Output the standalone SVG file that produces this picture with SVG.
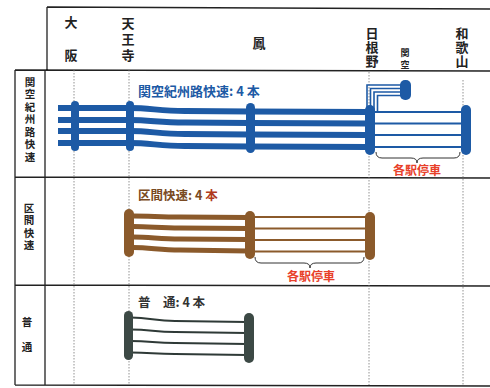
<svg xmlns="http://www.w3.org/2000/svg" width="490" height="388" viewBox="0 0 490 388">
<style>
text{font-family:"Noto Sans CJK JP","Noto Sans",sans-serif;font-weight:bold;}
.v{writing-mode:vertical-rl;text-orientation:upright;}
.grid{stroke:#222;stroke-width:1.3;fill:none;}
.dot{stroke:#777;stroke-width:0.8;stroke-dasharray:1.5 1.5;fill:none;}
.hd{font-size:13px;fill:#222;}
.rl{font-size:10.5px;fill:#222;}
.blueT{stroke:#1d5aa5;stroke-width:6;fill:none;}
.blueS{stroke:#1d5aa5;stroke-width:2;fill:none;}
.blueB{fill:#1d5aa5;}
.brT{stroke:#8b5a2b;stroke-width:5;fill:none;}
.brS{stroke:#8b5a2b;stroke-width:2;fill:none;}
.brB{fill:#8b5a2b;}
.dkS{stroke:#2f3a37;stroke-width:2.2;fill:none;}
.dkB{fill:#3c4945;}
.brace{stroke:#333;stroke-width:1;fill:none;}
.red{font-size:12px;fill:#e8402a;text-anchor:middle;}
</style>
<rect width="490" height="388" fill="#fff"/>
<g id="grid">
<path class="grid" d="M47,7 L490,9 M47,7 L47,70 M15,70 L490,71 M15,70 L15,385 M45,70 L45,385 M15,177 L490,178 M15,285 L490,286 M15,385 L490,386"/>
<path class="dot" d="M74,70 V385 M129,70 V385 M369,72 V385 M463,80 V385"/>
</g>
<g id="header">
<text class="hd v" x="71" y="15.5" letter-spacing="20">大阪</text>
<text class="hd v" x="128" y="16.5" letter-spacing="3">天王寺</text>
<text class="hd" x="259" y="48" text-anchor="middle">鳳</text>
<text class="hd v" x="372" y="26.5" letter-spacing="1">日根野</text>
<text class="hd v" x="405" y="48.5" letter-spacing="3" style="font-size:9px">関空</text>
<text class="hd v" x="462" y="26.5" letter-spacing="1">和歌山</text>
</g>
<g id="row-labels">
<text class="rl v" x="30" y="76.5" letter-spacing="2">関空紀州路快速</text>
<text class="rl v" x="29" y="202.7" letter-spacing="1.8">区間快速</text>
<text class="rl v" x="27" y="316.7" letter-spacing="14.5">普通</text>
</g>
<g id="connectors">
<path class="blueT" d="M58,108 L130,108 C150,108 160,111 185,111 L250,111.5 L368,112"/>
<path class="blueT" d="M58,120 L130,120 C150,120 160,122.5 185,122.5 L250,123 L368,123.5"/>
<path class="blueT" d="M58,131 L130,131 C150,131 160,134 185,134 L250,134.5 L368,135"/>
<path class="blueT" d="M58,143 L130,143 C150,143 160,146 185,146 L250,146.5 L368,147"/>
<path class="blueS" d="M370,112 H462 M370,123.5 H462 M370,135 H462 M370,147 H462"/>
<path class="blueS" style="stroke-width:1.6" d="M367,112 V85 H403 M370.5,112 V88.5 H403 M374,112 V92 H403 M377.5,112 V95.5 H403"/>
<path class="brT" d="M133,216 C150,216 160,217 180,217 L248,217.5"/>
<path class="brT" d="M133,226.5 C150,226.5 160,228 180,228 L248,228.5"/>
<path class="brT" d="M133,237 C150,237 160,239 180,239 L248,239.5"/>
<path class="brT" d="M133,247.5 C150,247.5 160,250 180,250 L248,251"/>
<path class="brS" d="M252,217 H368 M252,228.5 H368 M252,240 H368 M252,251.5 H368"/>
<path class="dkS" d="M131,317.5 C150,317.5 155,321 175,321 L247,322"/>
<path class="dkS" d="M131,329.5 C150,329.5 155,332 175,332 L247,333"/>
<path class="dkS" d="M131,341 C150,341 155,343 175,343 L247,344"/>
<path class="dkS" d="M131,352.5 C150,352.5 155,354 175,354 L247,355"/>
<path class="brace" d="M376,152 Q376,158 382,158 L411,158 Q417,158 417,163 Q417,158 423,158 L454,158 Q460,158 460,152"/>
<path class="brace" d="M255,257 Q255,263 261,263 L304,263 Q310,263 310,268 Q310,263 316,263 L358,263 Q364,263 364,257"/>
</g>
<g id="kanku-kishuji">
<text x="138" y="96" style="font-size:13px;fill:#1d5aa5">関空紀州路快速: 4 本</text>
<rect class="blueB" x="71" y="101" width="8" height="50" rx="4"/>
<rect class="blueB" x="126" y="101" width="8" height="50" rx="4"/>
<rect class="blueB" x="246" y="103" width="9" height="50" rx="4.5"/>
<rect class="blueB" x="365" y="105" width="10" height="50" rx="5"/>
<rect class="blueB" x="461" y="105" width="10" height="50" rx="5"/>
<rect class="blueB" x="400" y="80" width="11" height="20" rx="5"/>
<text class="red" x="417" y="175">各駅停車</text>
</g>
<g id="kukan">
<text x="138" y="200" style="font-size:12.5px;fill:#7a4a22">区間快速: 4 <tspan fill="#b03a20">本</tspan></text>
<rect class="brB" x="124" y="209" width="10" height="48" rx="5"/>
<rect class="brB" x="245" y="211" width="10" height="48" rx="5"/>
<rect class="brB" x="365" y="212" width="10" height="48" rx="5"/>
<text class="red" x="311" y="281">各駅停車</text>
</g>
<g id="futsu">
<text x="138" y="307" style="font-size:12.5px;fill:#333">普　通: 4 本</text>
<rect class="dkB" x="124" y="311" width="9" height="49" rx="4.5"/>
<rect class="dkB" x="244" y="313" width="10" height="50" rx="5"/>
</g>
</svg>
